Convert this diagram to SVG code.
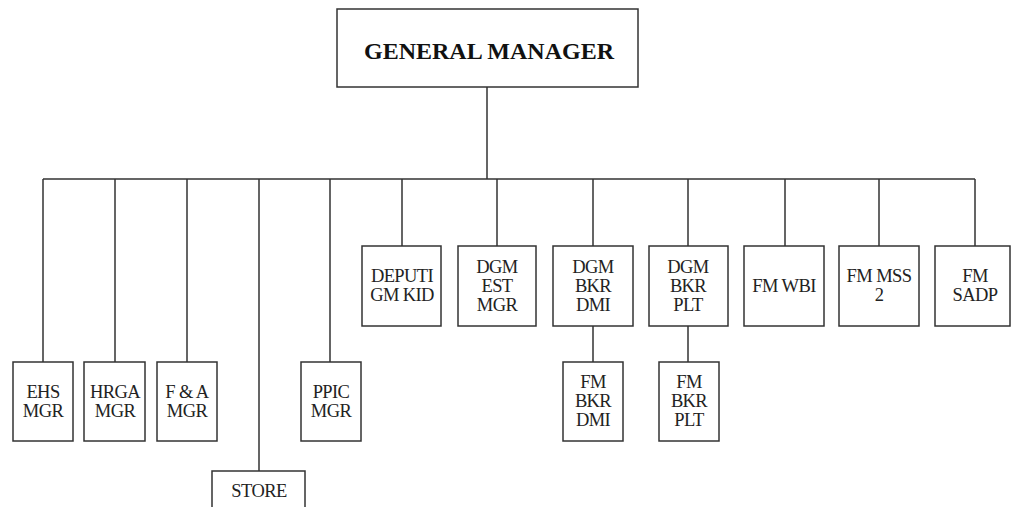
<svg xmlns="http://www.w3.org/2000/svg" width="1011" height="507" viewBox="0 0 1011 507">
<style>
.box{fill:#fff;stroke:#333;stroke-width:1.5}
.ln{stroke:#333;stroke-width:1.5;fill:none}
.t{font-family:"Liberation Serif","Times New Roman",serif;font-size:18.5px;fill:#222;text-anchor:middle;letter-spacing:-0.6px}
.title{font-family:"Liberation Serif","Times New Roman",serif;font-size:24px;font-weight:bold;fill:#111;text-anchor:middle}
</style>
<rect width="1011" height="507" fill="#fff"/>
<g id="connectors">
<path class="ln" d="M487 87V179M43 179H975"/>
<path class="ln" d="M43 179V362M115 179V362M187 179V362M259 179V471M330 179V362"/>
<path class="ln" d="M402 179V246M497 179V246M593 179V246M688 179V246M785 179V246M879 179V246M975 179V246"/>
<path class="ln" d="M593 326V362M688 326V362"/>
</g>
<g id="gm"><rect class="box" x="337" y="9" width="301" height="78"/><text class="title" x="489" y="59">GENERAL MANAGER</text></g>
<g id="ehs"><rect class="box" x="13" y="362" width="60" height="79"/><text class="t" x="43" y="398">EHS</text><text class="t" x="43" y="417">MGR</text></g>
<g id="hrga"><rect class="box" x="84" y="362" width="61" height="79"/><text class="t" x="115" y="398">HRGA</text><text class="t" x="115" y="417">MGR</text></g>
<g id="fa"><rect class="box" x="157" y="362" width="60" height="79"/><text class="t" x="187" y="398">F &amp; A</text><text class="t" x="187" y="417">MGR</text></g>
<g id="store"><rect class="box" x="212" y="471" width="93" height="40"/><text class="t" x="259" y="497">STORE</text></g>
<g id="ppic"><rect class="box" x="301" y="362" width="60" height="79"/><text class="t" x="331" y="398">PPIC</text><text class="t" x="331" y="417">MGR</text></g>
<g id="deputi"><rect class="box" x="362" y="246" width="79" height="80"/><text class="t" x="402" y="282">DEPUTI</text><text class="t" x="402" y="301">GM KID</text></g>
<g id="dgm-est"><rect class="box" x="458" y="246" width="78" height="80"/><text class="t" x="497" y="273">DGM</text><text class="t" x="497" y="292">EST</text><text class="t" x="497" y="311">MGR</text></g>
<g id="dgm-dmi"><rect class="box" x="553" y="246" width="80" height="80"/><text class="t" x="593" y="273">DGM</text><text class="t" x="593" y="292">BKR</text><text class="t" x="593" y="311">DMI</text></g>
<g id="dgm-plt"><rect class="box" x="649" y="246" width="79" height="80"/><text class="t" x="688" y="273">DGM</text><text class="t" x="688" y="292">BKR</text><text class="t" x="688" y="311">PLT</text></g>
<g id="fm-wbi"><rect class="box" x="744" y="246" width="80" height="80"/><text class="t" x="784" y="292">FM WBI</text></g>
<g id="fm-mss"><rect class="box" x="839" y="246" width="80" height="80"/><text class="t" x="879" y="282">FM MSS</text><text class="t" x="879" y="301">2</text></g>
<g id="fm-sadp"><rect class="box" x="935" y="246" width="75" height="80"/><text class="t" x="975" y="282">FM</text><text class="t" x="975" y="301">SADP</text></g>
<g id="fm-dmi"><rect class="box" x="563" y="362" width="60" height="79"/><text class="t" x="593" y="388">FM</text><text class="t" x="593" y="407">BKR</text><text class="t" x="593" y="426">DMI</text></g>
<g id="fm-plt"><rect class="box" x="659" y="362" width="60" height="79"/><text class="t" x="689" y="388">FM</text><text class="t" x="689" y="407">BKR</text><text class="t" x="689" y="426">PLT</text></g>
</svg>
